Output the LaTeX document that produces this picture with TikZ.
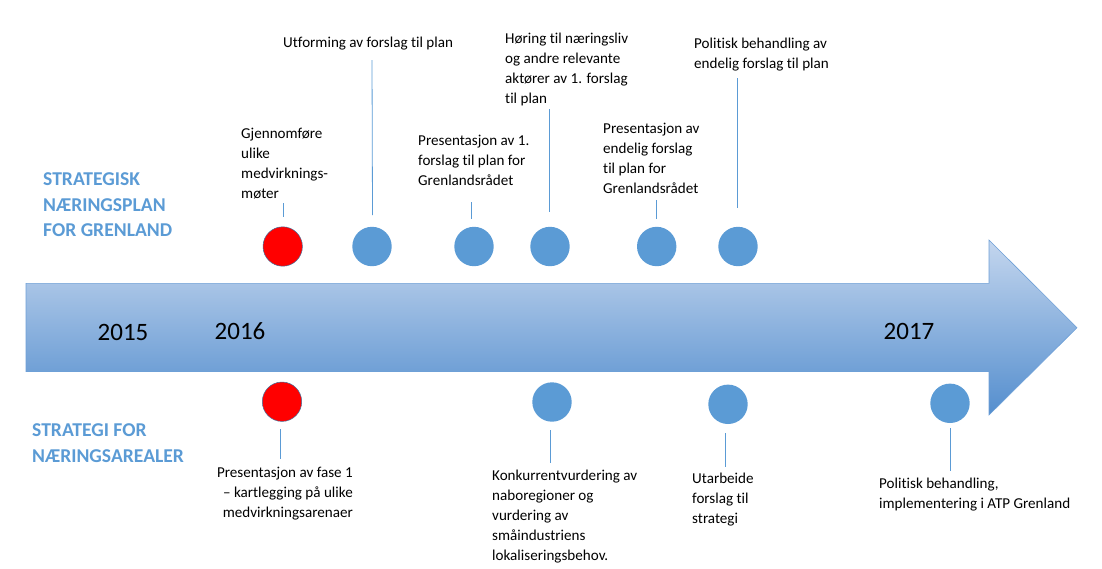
\documentclass[tikz,border=0pt]{standalone}
\usepackage{fontspec}
\setmainfont{Carlito}[Ligatures={NoCommon}]
\definecolor{accent}{RGB}{91,155,213}
\definecolor{ringblue}{RGB}{65,113,156}
\definecolor{arrowtop}{RGB}{196,214,238}
\definecolor{arrowbot}{RGB}{84,142,206}
\definecolor{arrowedge}{RGB}{110,160,215}
\tikzset{
  dot/.style={circle, fill=accent, draw=none, minimum size=39.4pt, inner sep=0pt},
  reddot/.style={circle, fill=red, draw=ringblue, line width=0.5pt, minimum size=39.4pt, inner sep=0pt},
  tick/.style={draw=accent, line width=0.8pt},
  lbl/.style={inner sep=0pt, anchor=north west, align=left, font=\fontsize{15.1}{20}\selectfont, execute at begin node=\strut},
  lblr/.style={inner sep=0pt, anchor=north east, align=right, font=\fontsize{15.1}{20}\selectfont, execute at begin node=\strut},
  head/.style={inner sep=0pt, anchor=north west, align=left, text=accent, font=\fontsize{19.6}{25.5}\selectfont\bfseries, execute at begin node=\rule{0pt}{17.85pt}},
  year/.style={inner sep=0pt, anchor=base west, font=\fontsize{25}{30}\selectfont},
}
\begin{document}
\begin{tikzpicture}[x=1pt,y=-1pt]
\useasboundingbox (0,0) rectangle (1102,568);
% big arrow
\path[draw=arrowedge, line width=0.6pt, top color=arrowtop, bottom color=arrowbot]
  (26,283.3) -- (989,283.3) -- (989,240) -- (1077,327.7) -- (989,415) -- (989,371.5) -- (26,371.5) -- cycle;
% years
\node[year] (y15) at (97.5,340.7) {2015};
\node[year] (y16) at (214.5,339.3) {2016};
\node[year] (y17) at (883.5,339.3) {2017};
% headers
\node[head] (h1) at (43,172.5) {STRATEGISK\\NÆRINGSPLAN\\FOR GRENLAND};
\node[head] (h2) at (32,423.9) {STRATEGI FOR\\NÆRINGSAREALER};
% upper circles
\node[reddot] (u1) at (282.7,246.5) {};
\node[dot] (u2) at (372,246.5) {};
\node[dot] (u3) at (474,246.5) {};
\node[dot] (u4) at (550,246.5) {};
\node[dot] (u5) at (656.7,246.5) {};
\node[dot] (u6) at (738,246.5) {};
% lower circles
\node[reddot] (l1) at (282,401.7) {};
\node[dot] (l2) at (552,402) {};
\node[dot] (l3) at (728,404.3) {};
\node[dot] (l4) at (950,403.3) {};
% upper labels
\node[lbl] (t1) at (241,128) {Gjennomføre\\ulike\\medvirknings-\\møter};
\node[lbl] (t2) at (283,33) {Utforming av forslag til plan};
\node[lbl] (t3) at (418,135) {Presentasjon av 1.\\forslag til plan for\\Grenlandsrådet};
\node[lbl] (t4) at (505,33) {Høring til næringsliv\\og andre relevante\\aktører av 1. forslag\\til plan};
\node[lbl] (t5) at (603,123) {Presentasjon av\\endelig forslag\\til plan for\\Grenlandsrådet};
\node[lbl] (t6) at (694,38) {Politisk behandling av\\endelig forslag til plan};
% lower labels
\node[lblr] (b1) at (353,467) {Presentasjon av fase 1\\– kartlegging på ulike\\medvirkningsarenaer};
\node[lbl] (b2) at (492,470) {Konkurrentvurdering av\\naboregioner og\\vurdering av\\småindustriens\\lokaliseringsbehov.};
\node[lbl] (b3) at (692,473) {Utarbeide\\forslag til\\strategi};
\node[lbl] (b4) at (879,478) {Politisk behandling,\\implementering i ATP Grenland};
% connector end points
\coordinate (u1a) at (283,203); \coordinate (u1b) at (283,217);
\coordinate (u2a) at (372,60);  \coordinate (u2b) at (372.5,215);
\coordinate (u3a) at (471.5,202); \coordinate (u3b) at (471.5,219);
\coordinate (u4a) at (549.6,109); \coordinate (u4b) at (549.6,212);
\coordinate (u5a) at (656.7,200); \coordinate (u5b) at (656.7,219);
\coordinate (u6a) at (737.3,78); \coordinate (u6b) at (737.3,208);
\coordinate (l1a) at (280.3,429); \coordinate (l1b) at (280.3,459);
\coordinate (l2a) at (550.3,430); \coordinate (l2b) at (550.3,463);
\coordinate (l3a) at (725.3,433); \coordinate (l3b) at (725.3,467);
\coordinate (l4a) at (950,428); \coordinate (l4b) at (950,471);
\foreach \c in {u1,u2,u3,u4,u5,u6,l1,l2,l3,l4}{
  \draw[tick] (\c a) -- (\c b);
}
\end{tikzpicture}
\end{document}
